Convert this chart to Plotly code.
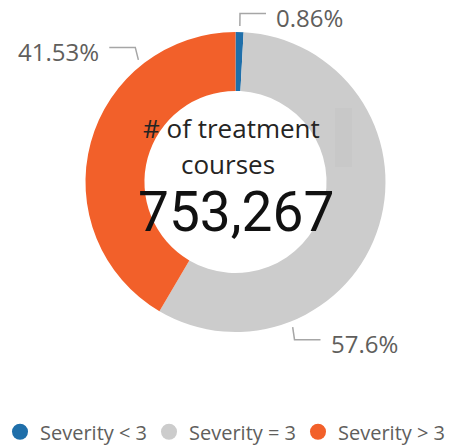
import math
import plotly.graph_objects as go

# ---- data ----
categories = ["Severity < 3", "Severity = 3", "Severity > 3"]
share_pct = [0.86, 57.6, 41.53]
label_texts = ["0.86%", "57.6%", "41.53%"]
total_courses = 753267
center_title_lines = ["# of treatment", "courses"]

# ---- style / layout ----
colors = ["#1F6FAA", "#CCCCCC", "#F2602A"]
label_angles_deg = [1.6, 158.5, 321.5]   # where leader lines leave the ring
label_side = ["right", "right", "left"]

W, H = 454, 445
CX, CY, R = 235.5, 182.0, 150.0
HOLE = 0.607
LABEL_FONT = "Open Sans"
GREY_TXT = "#605E5C"


def paper(x, y):
    return x / W, 1 - y / H


def ring_point(angle_deg, r):
    a = math.radians(angle_deg)
    return CX + r * math.sin(a), CY - r * math.cos(a)


fig = go.Figure()
fig.add_trace(go.Pie(
    labels=categories,
    values=share_pct,
    sort=False,
    direction="clockwise",
    rotation=0,
    hole=HOLE,
    marker=dict(colors=colors, line=dict(width=0)),
    textinfo="none",
    showlegend=False,
    domain=dict(x=[(CX - R) / W, (CX + R) / W], y=[1 - (CY + R) / H, 1 - (CY - R) / H]),
))

# legend entries (circle markers)
for name, col in zip(categories, colors):
    fig.add_trace(go.Scatter(
        x=[None], y=[None], mode="markers", name=name,
        marker=dict(symbol="circle", size=20, color=col),
        hoverinfo="skip",
    ))

shapes = []
annotations = []
for txt, ang, side in zip(label_texts, label_angles_deg, label_side):
    a = math.radians(ang)
    x0, y0 = ring_point(ang, 156)
    x1 = x0 + 5 * math.sin(a)
    y1 = y0 - 12.5 * (1 if math.cos(a) > 0 else -1)
    dx = 26 if side == "right" else -26
    x2, y2 = x1 + dx, y1
    p0, p1, p2 = paper(x0, y0), paper(x1, y1), paper(x2, y2)
    shapes.append(dict(
        type="path", xref="paper", yref="paper",
        path=f"M {p0[0]} {p0[1]} L {p1[0]} {p1[1]} L {p2[0]} {p2[1]}",
        line=dict(color="#A6A6A6", width=1.5),
    ))
    tx = x2 + (8 if side == "right" else -8)
    ax, ay = paper(tx, y2 + 4)
    annotations.append(dict(
        x=ax, y=ay, xref="paper", yref="paper", text=txt, showarrow=False,
        xanchor="left" if side == "right" else "right", yanchor="middle",
        font=dict(family=LABEL_FONT, size=24, color=GREY_TXT),
    ))

# faint card scroll strip seen on the ring
s0, s1 = paper(335, 108), paper(352, 167)
shapes.append(dict(
    type="rect", xref="paper", yref="paper", layer="above",
    x0=s0[0], y0=s1[1], x1=s1[0], y1=s0[1],
    fillcolor="rgba(0,0,0,0.018)", line=dict(width=0),
))

# center texts
for line, (lx, ly) in zip(center_title_lines, [(231.5, 128), (228, 164)]):
    px, py = paper(lx, ly)
    annotations.append(dict(
        x=px, y=py, xref="paper", yref="paper", text=line, showarrow=False,
        xanchor="center", yanchor="middle",
        font=dict(family=LABEL_FONT, size=26, color="#252423"),
    ))
bx, by = paper(235.5, 212)
annotations.append(dict(
    x=bx, y=by, xref="paper", yref="paper", text=f"{total_courses:,}", showarrow=False,
    xanchor="center", yanchor="middle",
    font=dict(family="Roboto", size=55, color="#111111"),
))

fig.update_layout(
    width=W, height=H,
    margin=dict(l=0, r=0, t=0, b=0, autoexpand=False),
    paper_bgcolor="white", plot_bgcolor="white",
    xaxis=dict(visible=False), yaxis=dict(visible=False),
    shapes=shapes, annotations=annotations,
    showlegend=True,
    legend=dict(
        orientation="h", x=0, xanchor="left", y=-0.014, yanchor="bottom",
        entrywidth=104, entrywidthmode="pixels",
        font=dict(family=LABEL_FONT, size=20, color=GREY_TXT),
        bgcolor="rgba(0,0,0,0)",
    ),
)

fig.write_html(
    "out.html",
    config={"displayModeBar": False},
    post_script="document.body.style.margin='0px';document.body.style.padding='0px';",
)
